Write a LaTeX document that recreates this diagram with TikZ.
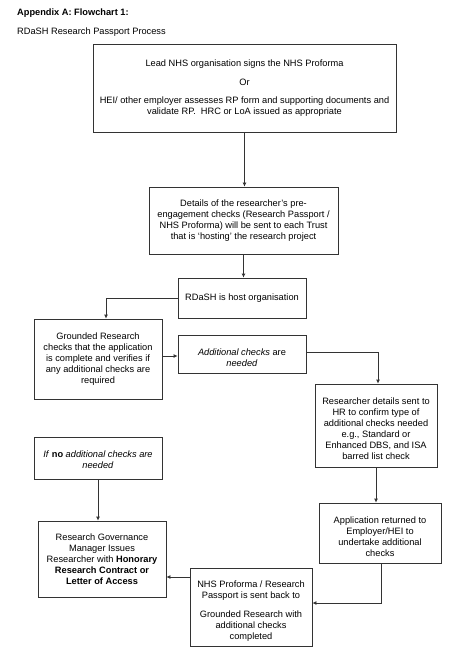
\documentclass[tikz,border=0pt]{standalone}
\usepackage{fontspec}
\setmainfont{Liberation Sans}
\usetikzlibrary{arrows.meta,calc}
\newcommand{\tgap}[1]{\rule{0pt}{#1}}
\begin{document}
\begin{tikzpicture}[x=1pt,y=-1pt,
  box/.style={draw=black!80, line width=0.8pt, align=center, inner sep=2pt,
    font=\fontsize{9.25}{11}\selectfont},
  conn/.style={draw=black!80, line width=0.8pt},
  arr/.style={conn, -{Latex[length=4pt,width=4pt]}},
  ttl/.style={anchor=base west, inner sep=0pt, font=\fontsize{9.25}{11}\selectfont}]
\useasboundingbox (0,0) rectangle (460,660);

\node[ttl] (t1) at (17,16) {\textbf{Appendix A: Flowchart 1:}};
\node[ttl] (t2) at (17,35) {RDaSH Research Passport Process};

\node[box, minimum width=303pt, minimum height=88pt] (b1) at (244.5,88)
  {Lead NHS organisation signs the NHS Proforma\\[7.5pt]
   Or\\[7pt]
   HEI/ other employer assesses RP form and supporting documents and\\
   validate RP.\ \ HRC or LoA issued as appropriate};

\node[box, minimum width=189pt, minimum height=67pt] (b2) at (243.5,220.5)
  {Details of the researcher's pre-\\
   engagement checks (Research Passport /\\
   NHS Proforma) will be sent to each Trust\\
   that is `hosting' the research project};

\node[box, minimum width=128pt, minimum height=40pt] (b3) at (242,298)
  {RDaSH is host organisation};

\node[box, minimum width=128pt, minimum height=80pt] (b4) at (98,359)
  {Grounded Research\\
   checks that the application\\
   is complete and verifies if\\
   any additional checks are\\
   required};

\node[box, minimum width=128pt, minimum height=38pt] (b5) at (242,354)
  {\tgap{15pt}\textit{Additional checks} are\\ \textit{needed}};

\node[box, minimum width=122pt, minimum height=83pt] (b6) at (376,425.5)
  {\tgap{14pt}Researcher details sent to\\
   HR to confirm type of\\
   additional checks needed\\
   e.g., Standard or\\
   Enhanced DBS, and ISA\\
   barred list check};

\node[box, minimum width=122pt, minimum height=60pt] (b7) at (380,533)
  {\tgap{15pt}Application returned to\\
   Employer/HEI to\\
   undertake additional\\
   checks};

\node[box, minimum width=122pt, minimum height=78pt] (b8) at (251,607)
  {\tgap{15.5pt}NHS Proforma / Research\\
   Passport is sent back to\\[8pt]
   Grounded Research with\\
   additional checks\\
   completed};

\node[box, minimum width=128pt, minimum height=76pt] (b9) at (102,559)
  {Research Governance\\
   Manager Issues\\
   Researcher with \textbf{Honorary}\\
   \textbf{Research Contract or}\\
   \textbf{Letter of Access}};

\node[box, minimum width=128pt, minimum height=42pt] (b10) at (98,458)
  {\tgap{11pt}\textit{If} \textbf{no} \textit{additional checks are}\\ \textit{needed}};

% connectors
\draw[arr] (b1.south) -- (b1.south |- b2.north);
\draw[arr] (b2.south) -- (b2.south |- b3.north);
\draw[arr] (b3.west) -| ($(b4.north)+(8,0)$);
\coordinate (c45) at ($(b5.west)+(0,2)$);
\draw[arr] (c45 -| b4.east) -- (c45);
\draw[arr] ($(b5.east)+(0,-2)$) -| ($(b6.north)+(2,0)$);
\draw[arr] (b6.south) -- (b6.south |- b7.north);
\draw[arr] ($(b7.south)+(1,0)$) |- ($(b8.east)+(0,-4)$);
\coordinate (c89) at ($(b9.east)+(0,18)$);
\draw[arr] (c89 -| b8.west) -- (c89);
\draw[arr] (b10.south) -- (b10.south |- b9.north);
\end{tikzpicture}
\end{document}
